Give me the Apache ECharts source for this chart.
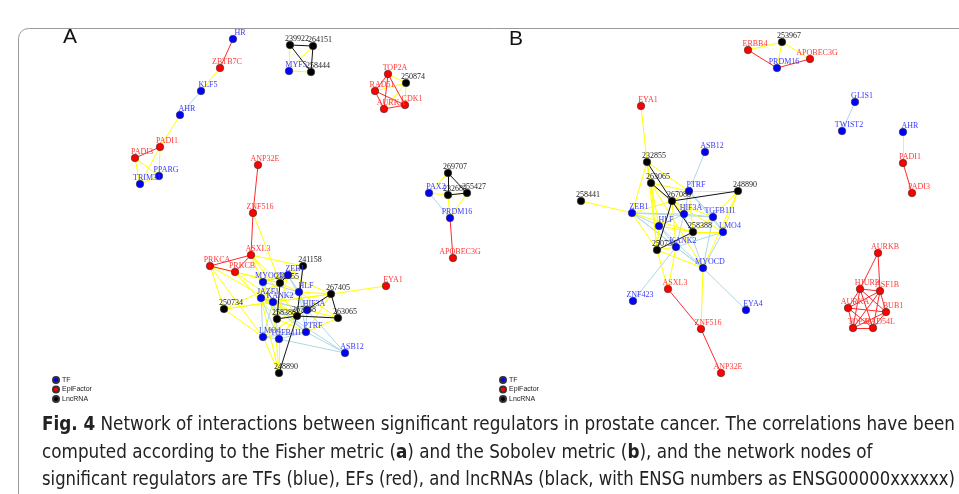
<!DOCTYPE html>
<html>
<head>
<meta charset="utf-8">
<script src="https://cdn.jsdelivr.net/npm/echarts@6/dist/echarts.min.js"></script>
<style>
html,body{margin:0;padding:0;background:#fff;}
#chart{width:959px;height:494px;}
</style>
</head>
<body>
<div id="chart"></div>
<script>
// ---- DATA ----
var nodeTypes = ['TF', 'EpiFactor', 'LncRNA'];
// Panel A nodes: [name, type, layoutX, layoutY]
var nodesA = [
  ['HR','TF',233,39], ['ZBTB7C','EpiFactor',220,68], ['KLF5','TF',201,91], ['AHR','TF',180,115],
  ['PADI1','EpiFactor',160,147], ['PADI3','EpiFactor',135,158], ['PPARG','TF',159,176], ['TRIM31','TF',140,184],
  ['239922','LncRNA',290,45], ['264151','LncRNA',313,46], ['MYF5','TF',289,71], ['258444','LncRNA',311,72],
  ['TOP2A','EpiFactor',388,74], ['250874','LncRNA',406,83], ['RAD51','EpiFactor',375,91], ['CDK1','EpiFactor',405,105], ['AURKA','EpiFactor',384,109],
  ['269707','LncRNA',448,173], ['PAX2','TF',429,193], ['232683','LncRNA',448,195], ['255427','LncRNA',467,193],
  ['PRDM16','TF',450,218], ['APOBEC3G','EpiFactor',453,258],
  ['ANP32E','EpiFactor',258,165], ['ZNF516','EpiFactor',253,213], ['ASXL3','EpiFactor',251,255],
  ['PRKCA','EpiFactor',210,266], ['PRKCB','EpiFactor',235,272], ['241158','LncRNA',303,266], ['ZEB1','TF',288,275],
  ['MYOCD','TF',263,282], ['232855','LncRNA',280,283], ['HLF','TF',299,292], ['267405','LncRNA',331,294],
  ['EYA1','EpiFactor',386,286], ['JAZF1','TF',261,298], ['KANK2','TF',273,302], ['250734','LncRNA',224,309],
  ['HIF3A','TF',307,310], ['263065','LncRNA',338,318], ['258388','LncRNA',277,319], ['267088','LncRNA',297,316],
  ['LMO4','TF',263,337], ['TGFB1I1','TF',279,339], ['PTRF','TF',306,332], ['ASB12','TF',345,353], ['248890','LncRNA',279,373]
];
// Panel A edges: [source, target, kind]  kind: P = mixed (yellow), T = TF-TF (light blue), E = EF-EF (red), L = lnc-lnc (black)
var edgesA = [
  ['HR','ZBTB7C','E'], ['ZBTB7C','KLF5','P'], ['KLF5','AHR','T'], ['AHR','PADI1','P'],
  ['PADI1','PADI3','E'], ['PADI1','PPARG','P'], ['PADI1','TRIM31','P'], ['PADI3','PPARG','P'], ['PADI3','TRIM31','P'], ['TRIM31','PPARG','P'],
  ['239922','264151','L'], ['239922','258444','L'], ['264151','258444','L'], ['239922','MYF5','P'], ['MYF5','258444','P'], ['264151','MYF5','P'],
  ['TOP2A','250874','P'], ['TOP2A','RAD51','E'], ['TOP2A','AURKA','E'], ['TOP2A','CDK1','E'], ['RAD51','250874','P'], ['RAD51','CDK1','E'],
  ['RAD51','AURKA','E'], ['250874','CDK1','P'], ['250874','AURKA','P'], ['AURKA','CDK1','E'],
  ['269707','PAX2','P'], ['269707','232683','P'], ['269707','232683','L'], ['269707','255427','L'], ['PAX2','232683','P'], ['232683','255427','P'],
  ['232683','255427','L'], ['PAX2','PRDM16','T'], ['232683','PRDM16','P'], ['255427','PRDM16','P'], ['PRDM16','APOBEC3G','E'],
  ['ANP32E','ZNF516','E'], ['ZNF516','ASXL3','E'], ['ZNF516','232855','P'], ['ASXL3','PRKCA','E'], ['ASXL3','PRKCB','E'], ['PRKCA','PRKCB','E'],
  ['ASXL3','232855','P'], ['ASXL3','267088','P'], ['ASXL3','241158','P'], ['ASXL3','258388','P'], ['PRKCA','232855','P'], ['PRKCA','250734','P'],
  ['PRKCA','267088','P'], ['PRKCA','LMO4','P'], ['PRKCB','232855','P'], ['PRKCB','267088','P'], ['PRKCB','258388','P'], ['250734','232855','P'], ['250734','267405','P'],
  ['EYA1','267405','P'], ['267405','ZEB1','P'], ['267405','HLF','P'], ['267405','HIF3A','P'], ['267405','PTRF','P'], ['267405','KANK2','P'],
  ['263065','HIF3A','P'], ['263065','PTRF','P'], ['263065','HLF','P'], ['241158','ZEB1','P'], ['241158','HLF','P'], ['241158','MYOCD','P'],
  ['241158','JAZF1','P'], ['248890','LMO4','P'], ['248890','TGFB1I1','P'], ['248890','JAZF1','P'], ['248890','KANK2','P'],
  ['258388','ZEB1','P'], ['258388','HIF3A','P'], ['258388','PTRF','P'], ['267088','JAZF1','P'], ['267088','LMO4','P'], ['267088','TGFB1I1','P'],
  ['232855','HLF','P'], ['232855','HIF3A','P'], ['250734','KANK2','P'], ['250734','LMO4','P'],
  ['MYOCD','ZEB1','T'], ['MYOCD','JAZF1','T'], ['MYOCD','KANK2','T'], ['MYOCD','HLF','T'], ['JAZF1','KANK2','T'], ['JAZF1','LMO4','T'],
  ['JAZF1','TGFB1I1','T'], ['JAZF1','HIF3A','T'], ['JAZF1','PTRF','T'], ['KANK2','HLF','T'], ['KANK2','HIF3A','T'], ['KANK2','LMO4','T'],
  ['KANK2','TGFB1I1','T'], ['KANK2','PTRF','T'], ['ZEB1','HLF','T'], ['ZEB1','HIF3A','T'], ['HLF','HIF3A','T'], ['HLF','PTRF','T'],
  ['HIF3A','PTRF','T'], ['HIF3A','ASB12','T'], ['PTRF','ASB12','T'], ['LMO4','TGFB1I1','T'], ['LMO4','PTRF','T'], ['TGFB1I1','PTRF','T'],
  ['JAZF1','ASB12','T'], ['TGFB1I1','ASB12','T'],
  ['241158','267088','L'], ['232855','258388','L'], ['258388','267088','L'], ['267405','263065','L'], ['267405','267088','L'],
  ['263065','267088','L'], ['267088','248890','L'], ['232855','ZEB1','L']
];
// Panel B nodes
var nodesB = [
  ['253967','LncRNA',782,42], ['ERBB4','EpiFactor',748,50], ['APOBEC3G','EpiFactor',810,59], ['PRDM16','TF',777,68],
  ['GLIS1','TF',855,102], ['TWIST2','TF',842,131], ['AHR','TF',903,132], ['PADI1','EpiFactor',903,163], ['PADI3','EpiFactor',912,193],
  ['AURKB','EpiFactor',878,253], ['HJURP','EpiFactor',860,289], ['ASF1B','EpiFactor',880,291], ['AURKA','EpiFactor',848,308],
  ['BUB1','EpiFactor',886,312], ['TOP2A','EpiFactor',853,328], ['RAD54L','EpiFactor',873,328],
  ['EYA1','EpiFactor',641,106], ['ASB12','TF',705,152], ['232855','LncRNA',647,162], ['263065','LncRNA',651,183],
  ['PTRF','TF',689,191], ['248890','LncRNA',738,191], ['258441','LncRNA',581,201], ['267088','LncRNA',672,201],
  ['ZEB1','TF',632,213], ['HIF3A','TF',684,214], ['TGFB1I1','TF',713,217], ['HLF','TF',659,226],
  ['258388','LncRNA',693,232], ['LMO4','TF',723,232], ['250734','LncRNA',657,250], ['KANK2','TF',676,247],
  ['MYOCD','TF',703,268], ['ASXL3','EpiFactor',668,289], ['ZNF423','TF',633,301], ['EYA4','TF',746,310],
  ['ZNF516','EpiFactor',701,329], ['ANP32E','EpiFactor',721,373]
];
var edgesB = [
  ['ERBB4','253967','P'], ['253967','PRDM16','P'], ['253967','APOBEC3G','P'], ['ERBB4','PRDM16','E'], ['PRDM16','APOBEC3G','E'],
  ['GLIS1','TWIST2','T'], ['AHR','PADI1','P'], ['PADI1','PADI3','E'],
  ['AURKB','HJURP','E'], ['AURKB','ASF1B','E'], ['HJURP','ASF1B','E'], ['HJURP','AURKA','E'], ['HJURP','BUB1','E'], ['HJURP','TOP2A','E'],
  ['HJURP','RAD54L','E'], ['ASF1B','AURKA','E'], ['ASF1B','BUB1','E'], ['ASF1B','TOP2A','E'], ['ASF1B','RAD54L','E'], ['AURKA','BUB1','E'],
  ['AURKA','TOP2A','E'], ['AURKA','RAD54L','E'], ['BUB1','TOP2A','E'], ['BUB1','RAD54L','E'], ['TOP2A','RAD54L','E'],
  ['EYA1','232855','P'], ['258441','ZEB1','P'], ['232855','ZEB1','P'], ['232855','PTRF','P'], ['232855','HLF','P'], ['263065','PTRF','P'],
  ['263065','250734','P'], ['263065','HIF3A','P'], ['267088','ZEB1','P'], ['267088','PTRF','P'], ['267088','HIF3A','P'],
  ['267088','TGFB1I1','P'], ['267088','KANK2','P'], ['267088','LMO4','P'], ['248890','TGFB1I1','P'], ['248890','LMO4','P'],
  ['248890','MYOCD','P'], ['248890','PTRF','P'], ['258388','ZEB1','P'], ['258388','HLF','P'], ['258388','TGFB1I1','P'], ['258388','LMO4','P'],
  ['258388','KANK2','P'], ['258388','PTRF','P'], ['250734','ZEB1','P'], ['250734','HLF','P'], ['250734','KANK2','P'], ['250734','MYOCD','P'],
  ['250734','ASXL3','P'], ['KANK2','ASXL3','P'], ['MYOCD','ZNF516','P'], ['263065','MYOCD','P'], ['232855','250734','P'],
  ['ASB12','PTRF','T'], ['PTRF','HIF3A','T'], ['PTRF','TGFB1I1','T'], ['PTRF','LMO4','T'], ['ZEB1','HIF3A','T'], ['ZEB1','TGFB1I1','T'],
  ['ZEB1','HLF','T'], ['ZEB1','KANK2','T'], ['ZEB1','MYOCD','T'], ['HLF','HIF3A','T'], ['HLF','KANK2','T'], ['HLF','MYOCD','T'],
  ['HIF3A','KANK2','T'], ['HIF3A','TGFB1I1','T'], ['HIF3A','MYOCD','T'], ['TGFB1I1','LMO4','T'], ['TGFB1I1','MYOCD','T'],
  ['LMO4','MYOCD','T'], ['LMO4','KANK2','T'], ['KANK2','ZNF423','T'], ['MYOCD','EYA4','T'], ['KANK2','MYOCD','T'],
  ['ASXL3','ZNF516','E'], ['ZNF516','ANP32E','E'],
  ['232855','267088','L'], ['263065','267088','L'], ['267088','248890','L'], ['267088','258388','L'], ['267088','250734','L'], ['250734','258388','L']
];
var panelLabels = ['A', 'B'];
var legendNames = ['TF', 'EpiFactor', 'LncRNA'];
// caption lines as runs of [text, bold]
var captionLines = [
  [['Fig. 4', true], [' Network of interactions between significant regulators in prostate cancer. The correlations have been', false]],
  [['computed according to the Fisher metric (', false], ['a', true], [') and the Sobolev metric (', false], ['b', true], ['), and the network nodes of', false]],
  [['significant regulators are TFs (blue), EFs (red), and lncRNAs (black, with ENSG numbers as ENSG00000xxxxxx)', false]]
];

// ---- STYLES ----
var nodeColor = {TF:'#0000ff', EpiFactor:'#ff0000', LncRNA:'#000000'};
var labelColor = {TF:'#3a3aff', EpiFactor:'#ff3a3a', LncRNA:'#222222'};
var edgeColor = {P:'#ffff00', T:'#add8e6', E:'#ff2a2a', L:'#111111'};
var edgeOrder = {T:0, P:1, E:2, L:3};
var captionFullWidth = 913;   // width of a full (justified) caption line
var captionTop = [416, 443.5, 471];

function buildNodes(list){
  return list.map(function(n){
    return {
      name:n[0], value:[n[2], n[3]], category: nodeTypes.indexOf(n[1]),
      label:{color: labelColor[n[1]]}
    };
  });
}
function buildLinks(list){
  return list.slice().sort(function(a,b){return edgeOrder[a[2]]-edgeOrder[b[2]];}).map(function(e){
    return {source:e[0], target:e[1], lineStyle:{color:edgeColor[e[2]], width:1, opacity:1}};
  });
}
var categories = nodeTypes.map(function(t){ return {name:t, itemStyle:{color:nodeColor[t]}}; });

function graphSeries(nodes, links){
  return {
    type:'graph', coordinateSystem:'cartesian2d', layout:'none',
    symbol:'circle', symbolSize:7.5, categories:categories,
    itemStyle:{borderColor:'#333', borderWidth:0.6},
    label:{show:true, position:'top', distance:0, offset:[7,2], fontFamily:'Liberation Serif, serif', fontSize:8,
      formatter:'{b}'},
    emphasis:{disabled:true},
    lineStyle:{curveness:0},
    data:buildNodes(nodes), links:buildLinks(links), z:3
  };
}

var capFont = "'Liberation Sans Narrow','DejaVu Sans Condensed','Liberation Sans',sans-serif";
var boldFont = "bold 19px " + capFont, regFont = "19px " + capFont;
var measureCanvas = document.createElement('canvas').getContext('2d');
function runWidth(runs){
  var w = 0;
  runs.forEach(function(r){ measureCanvas.font = r[1] ? boldFont : regFont; w += measureCanvas.measureText(r[0]).width; });
  return w;
}
// full lines (1 and 3) are fitted to the full width; the short last-of-paragraph style line 2 uses line 1's scale
var s1 = captionFullWidth / runWidth(captionLines[0]);
var s3 = captionFullWidth / runWidth(captionLines[2]);
var lineScales = [s1, s1, s3];
var captionGraphics = captionLines.map(function(runs, i){
  var txt = runs.map(function(r){ return '{' + (r[1] ? 'b' : 'r') + '|' + r[0] + '}'; }).join('');
  return {
    type:'text', x:42, y:captionTop[i], scaleX:lineScales[i], z:5,
    style:{ text:txt, rich:{ b:{font:boldFont, fill:'#222'}, r:{font:regFont, fill:'#222'} } }
  };
});

var chart = echarts.init(document.getElementById('chart'), null, {renderer:'canvas'});
var option = {
  animation:false,
  backgroundColor:'#ffffff',
  grid:{left:0, right:0, top:0, bottom:0},
  xAxis:{type:'value', min:0, max:959, show:false},
  yAxis:{type:'value', min:0, max:494, inverse:true, show:false},
  legend:[
    {data:legendNames, orient:'vertical', left:52, top:376, icon:'circle', itemWidth:6, itemHeight:6, itemGap:1.5,
     textStyle:{fontSize:7, fontFamily:'Liberation Sans, sans-serif', color:'#222', padding:[0,0,0,-2]}, selectedMode:false, padding:0},
    {data:legendNames, orient:'vertical', left:499, top:376, icon:'circle', itemWidth:6, itemHeight:6, itemGap:1.5,
     textStyle:{fontSize:7, fontFamily:'Liberation Sans, sans-serif', color:'#222', padding:[0,0,0,-2]}, selectedMode:false, padding:0}
  ],
  graphic:[
    {type:'rect', shape:{x:18.5, y:28.5, width:1000, height:600, r:10}, style:{fill:'none', stroke:'#9a9a9a', lineWidth:1}, z:0, silent:true},
    {type:'text', left:63, top:27, style:{text:panelLabels[0], font:"21px 'Liberation Sans', sans-serif", fill:'#111'}, z:5},
    {type:'text', left:509, top:29, style:{text:panelLabels[1], font:"21px 'Liberation Sans', sans-serif", fill:'#111'}, z:5}
  ].concat(captionGraphics),
  series:[graphSeries(nodesA, edgesA), graphSeries(nodesB, edgesB)]
};
chart.setOption(option);
</script>
</body>
</html>
